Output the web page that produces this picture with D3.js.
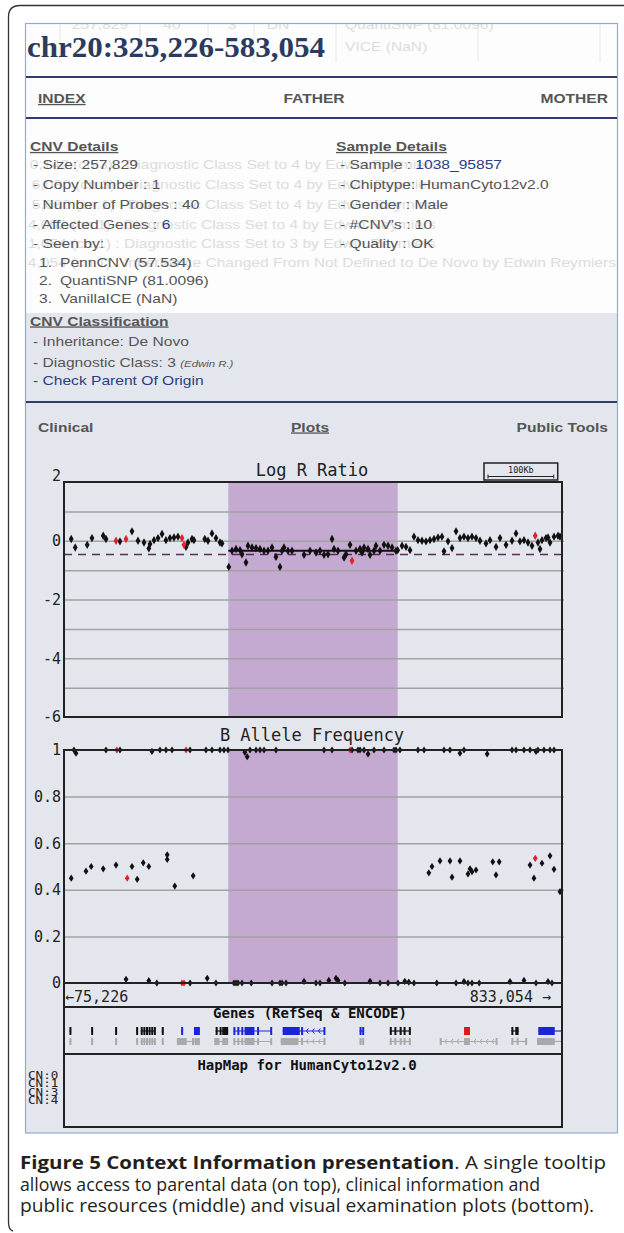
<!DOCTYPE html>
<html>
<head>
<meta charset="utf-8">
<script src="https://cdn.jsdelivr.net/npm/d3@7"></script>
<style>
  body { margin: 0; background: #fff; }
  svg { display: block; }
  text { white-space: pre; }
</style>
</head>
<body>
<div id="chart"></div>
<script>
// region shown in the plots (kb) and the called CNV
const viewStartKb = 75.226, viewEndKb = 833.054;
const cnvStartKb = 325.226, cnvEndKb = 583.054;
const scaleBarKb = 100;

const lrrTicks = [2, 0, -2, -4, -6];
const lrrGrid = [1, 0, -1, -2, -3, -4, -5];
const bafTicks = [1, 0.8, 0.6, 0.4, 0.2, 0];
const lrrSegmentMean = -0.34;
const lrrThreshold = -0.47;

// Log R Ratio probes (position kb, value)
const lrrPos = [86.2, 92.3, 110.5, 117.8, 134.9, 139.1, 160.4, 178.7, 187.8, 197.0, 206.1, 204.3, 212.2, 218.3, 224.4, 230.4,
  236.5, 242.6, 248.7, 260.9, 263.9, 270.0, 273.0, 289.5, 294.4, 300.4, 306.5, 312.6, 315.7,
  326.0, 330.9, 337.0, 343.1, 346.1, 352.2, 355.2, 361.3, 367.4, 373.5, 379.6, 385.7, 391.8, 397.8, 403.9, 407.0, 410.0,
  416.1, 422.2, 440.5, 449.6, 458.7, 464.8, 470.9, 477.0, 483.1, 486.1, 492.2, 501.4, 504.4, 510.5, 519.6, 525.7, 528.7,
  531.8, 537.9, 540.9, 547.0, 550.0, 556.1, 562.2, 568.3, 574.4, 580.4, 583.0,
  589.6, 595.7, 601.8, 607.8, 613.9, 620.0, 626.1, 632.2, 638.3, 644.4, 650.4, 653.5, 659.6, 665.7, 671.8, 677.8, 683.9,
  690.0, 696.1, 702.2, 708.3, 717.4, 723.5, 732.7, 738.7, 747.9, 757.0, 763.1, 769.1, 775.2, 781.3, 787.4, 796.5, 799.6,
  802.6, 808.7, 811.8, 814.8, 820.9, 827.0, 830.0];
const lrrVal = [0.06, -0.23, -0.14, 0.09, 0.17, 0.06, -0.02, 0.32, 0.0, -0.06, -0.11, -0.26, 0.02, 0.09, 0.23, 0.02,
  0.09, 0.11, 0.14, -0.21, -0.06, 0.06, 0.02, 0.06, 0.0, 0.25, 0.09, -0.06, -0.09,
  -0.89, -0.34, -0.28, -0.32, -0.46, -0.74, -0.17, -0.23, -0.25, -0.28, -0.34, -0.34, -0.23, -0.55, -0.89, -0.34, -0.23,
  -0.34, -0.34, -0.48, -0.34, -0.40, -0.34, -0.48, -0.46, 0.06, -0.28, -0.34, -0.57, -0.46, -0.14, -0.34, -0.28, -0.40,
  -0.23, -0.28, -0.48, -0.34, -0.17, -0.34, -0.14, -0.17, -0.23, -0.34, -0.32,
  -0.17, -0.21, -0.32, 0.14, 0.02, 0.0, -0.02, 0.02, 0.06, 0.11, 0.14, -0.36, -0.02, -0.25, 0.32, 0.09, 0.14,
  0.09, 0.14, 0.09, 0.0, -0.09, 0.02, -0.21, 0.09, -0.14, 0.0, 0.25, -0.02, 0.02, -0.06, -0.17, -0.06, -0.28,
  0.02, 0.09, 0.11, -0.06, 0.14, 0.17, 0.14];
const lrrRedPos = [154.4, 169.6, 254.8, 257.8, 513.5, 792.3];
const lrrRedVal = [0.0, 0.06, 0.09, -0.14, -0.68, 0.17];

// B Allele Frequency probes (position kb, value)
const bafPos = [90.4, 93.5, 139.1, 160.4, 209.1, 221.3, 230.4, 239.6, 267.0, 291.3, 300.4, 312.6, 318.7, 324.8, 350.4, 354.0,
  358.3, 367.4, 373.5, 379.6, 397.8, 470.9, 483.1, 513.5, 522.6, 525.7, 531.8, 537.9, 547.0, 562.2, 577.4, 580.4, 586.5,
  613.9, 623.1, 653.5, 662.6, 677.8, 683.9, 719.2, 757.0, 763.1, 775.2, 784.4, 793.5, 796.5, 805.6, 814.8, 820.9,
  86.2, 108.7, 116.6, 134.9, 154.4, 178.7, 186.6, 195.8, 204.3, 232.3, 232.3, 243.8, 271.8,
  630.4, 635.2, 647.4, 662.6, 665.7, 677.8, 690.0, 693.1, 696.1, 702.2, 727.7, 732.6, 737.5, 784.4, 790.4, 802.6, 814.8,
  820.9, 830.0,
  169.6, 204.3, 216.5, 267.0, 293.2, 306.5, 333.9, 337.0, 340.0, 346.1, 360.1, 391.8, 403.9, 407.0, 413.1, 440.5, 458.7,
  464.8, 478.2, 489.1, 492.2, 502.5, 540.9, 556.1, 568.3, 583.5, 593.8, 599.9, 607.8, 642.5, 671.8, 683.9, 690.0, 696.1,
  707.1, 753.9, 775.2, 793.5, 811.8, 817.8];
const bafVal = [1, 0.986, 1, 1, 0.994, 1, 1, 1, 1, 1, 1, 1, 1, 1, 0.99, 0.971,
  1, 1, 1, 1, 1, 1, 1, 1, 1, 1, 1, 0.983, 1, 1, 1, 1, 1,
  1, 1, 1, 1, 0.986, 1, 0.983, 1, 1, 1, 1, 0.994, 1, 1, 1, 1,
  0.45, 0.48, 0.50, 0.49, 0.506, 0.50, 0.445, 0.516, 0.50, 0.55, 0.53, 0.416, 0.46,
  0.473, 0.50, 0.524, 0.524, 0.454, 0.524, 0.468, 0.49, 0.478, 0.485, 0.52, 0.464, 0.52, 0.506, 0.45, 0.514, 0.546,
  0.488, 0.392,
  0.016, 0.01, 0, 0, 0.02, 0, 0, 0, 0, 0, 0, 0, 0, 0, 0, 0.007, 0,
  0, 0.011, 0.02, 0.011, 0, 0.007, 0, 0, 0, 0.007, 0.004, 0, 0, 0, 0.006, 0, 0,
  0, 0.006, 0.011, 0, 0.006, 0];
const bafRedPos = [155.6, 260.9, 510.5, 171.4, 792.3, 254.8, 257.8];
const bafRedVal = [1, 1, 1, 0.45, 0.535, 0, 0];

// gene track: [colour, start kb, end kb, exons, strand]
const refseqGenes = [
  ["k", 83.5, 85.5, [[83.5, 85.5]], 0],
  ["k", 116.5, 118.5, [[116.5, 118.5]], 0],
  ["k", 153, 155, [[153, 155]], 0],
  ["k", 185, 187, [[185, 187]], 0],
  ["k", 192, 214, [[192, 194], [196, 198], [200, 202], [204, 206], [208, 210], [212, 214]], 0],
  ["k", 224, 226, [[224, 226]], 0],
  ["b", 253.5, 255.5, [[253.5, 255.5]], 0],
  ["b", 273, 282, [[273, 282]], 0],
  ["k", 306, 325, [[306, 308], [312, 314], [316, 325]], 0],
  ["b", 333, 391, [[333, 335], [339, 342], [345, 347], [350, 365], [369, 371], [389, 391]], 0],
  ["b", 408, 472, [[408, 434], [436, 438], [470, 472]], -1],
  ["b", 525, 531, [[525, 527], [529, 531]], 0],
  ["k", 571, 602, [[571, 573], [578, 580], [586, 588], [592, 594], [600, 602]], 0],
  ["r", 684, 693, [[684, 693]], 0],
  ["k", 756, 767, [[756, 758], [762, 767]], 0],
  ["b", 797, 840, [[797, 822]], 0]
];
const encodeGenes = [
  [83.5, 85.5, [[83.5, 85.5]], 0],
  [116.5, 118.5, [[116.5, 118.5]], 0],
  [153, 155, [[153, 155]], 0],
  [185, 187, [[185, 187]], 0],
  [192, 214, [[192, 194], [196, 198], [200, 202], [204, 206], [208, 210], [212, 214]], 0],
  [224, 226, [[224, 226]], 0],
  [247, 282, [[247, 262], [270, 272], [274, 282]], 0],
  [304, 325, [[304, 312], [316, 325]], 0],
  [333, 391, [[333, 335], [339, 342], [345, 347], [350, 365], [369, 371], [389, 391]], 0],
  [405, 472, [[405, 432], [436, 438], [470, 472]], -1],
  [525, 531, [[525, 527], [529, 531]], 0],
  [571, 602, [[571, 573], [578, 580], [586, 588], [592, 594], [600, 602]], 0],
  [647, 734, [[647, 649], [684, 693], [732, 734]], -1],
  [756, 779, [[756, 758], [764, 767], [777, 779]], 0],
  [795, 840, [[795, 822]], 0]
];
const cnLabels = ["CN:0", "CN:1", "CN:3", "CN:4"];

const W = 624, H = 1233;
const svg = d3.select("#chart").append("svg").attr("width", W).attr("height", H);

const sans = "'Liberation Sans', Arial, sans-serif";
const mono = "'DejaVu Sans Mono', monospace";

// screenshot text is a bit wide, so stretch it horizontally
function txt(x, y, parts, o = {}) {
  const el = (o.parent || svg).append("text")
    .attr("transform", `translate(${x},${y}) scale(${o.sx ?? 1.2},1)`)
    .attr("text-anchor", o.anchor || "start")
    .attr("font-family", o.font || sans)
    .attr("font-size", o.size || 13)
    .attr("font-weight", o.bold ? "bold" : "normal")
    .attr("fill", o.fill || "#555");
  if (o.u) el.attr("text-decoration", "underline");
  (typeof parts === "string" ? [[parts]] : parts).forEach(([s, p = {}]) => {
    const ts = el.append("tspan").text(s);
    if (p.fill) ts.attr("fill", p.fill);
    if (p.italic) ts.attr("font-style", "italic");
    if (p.size) ts.attr("font-size", p.size);
    if (p.bold) ts.attr("font-weight", "bold");
  });
  return el;
}

// outer frame
svg.append("path")
  .attr("d", "M624,5.5 H20 Q8.5,5.5 8.5,17 V1222 Q8.5,1230 13,1231")
  .attr("fill", "none").attr("stroke", "#333").attr("stroke-width", 1.3);

// the screenshot panel
svg.append("rect").attr("x", 25).attr("y", 23).attr("width", 593).attr("height", 1110).attr("fill", "#fdfdfd");
svg.append("rect").attr("x", 25).attr("y", 313).attr("width", 593).attr("height", 820).attr("fill", "#e4e6ee");

svg.append("clipPath").attr("id", "panelClip")
  .append("rect").attr("x", 26).attr("y", 24).attr("width", 591).attr("height", 289);

// faint table showing through the tooltip
const ghost = "#dcdcdc";
const ghostG = svg.append("g").attr("clip-path", "url(#panelClip)");
[60, 140, 208, 254, 336, 478, 600].forEach(gx => {
  ghostG.append("line").attr("x1", gx).attr("x2", gx).attr("y1", 24).attr("y2", 62)
    .attr("stroke", "#e8e8e8").attr("stroke-width", 1);
});
txt(100, 29, "257,829", {fill: ghost, anchor: "middle", parent: ghostG});
txt(172, 29, "40", {fill: ghost, anchor: "middle", parent: ghostG});
txt(232, 29, "3", {fill: ghost, anchor: "middle", parent: ghostG});
txt(278, 29, "DN", {fill: ghost, anchor: "middle", parent: ghostG});
txt(345, 29, "QuantiSNP (81.0096)", {fill: ghost, parent: ghostG});
txt(345, 51, "VICE (NaN)", {fill: ghost, parent: ghostG});

const ghostRows = [
  ["0,142 (cn:3) : ", "Diagnostic Class Set to 4 by Edwin Reymiers", 126],
  ["6,080 (cn:3) : ", "Diagnostic Class Set to 4 by Edwin Reymiers", 128],
  ["5,680 (cn:1) : ", "Diagnostic Class Set to 4 by Edwin Reymiers", 128],
  ["4,002 (cn:1) : ", "Diagnostic Class Set to 4 by Edwin Reymiers", 124],
  ["1,054 (cn:1) : ", "Diagnostic Class Set to 3 by Edwin Reymiers", 124],
  ["4,054 (cn:1) : ", "Inheritance Changed From Not Defined to De Novo by Edwin Reymiers", 124]
];
const rowY = [168.5, 188.5, 208.5, 228.5, 247.5, 266.5, 284.5, 302.5];
ghostRows.forEach((r, i) => {
  txt(r[2], rowY[i], r[0], {fill: ghost, anchor: "end", parent: ghostG});
  txt(r[2], rowY[i], r[1], {fill: ghost, parent: ghostG});
});

// panel border and navy rules
svg.append("rect").attr("x", 25.5).attr("y", 23.5).attr("width", 592).attr("height", 1109.5)
  .attr("fill", "none").attr("stroke", "#93aad8").attr("stroke-width", 1.2);
[77, 118, 402].forEach(ly => {
  svg.append("line").attr("x1", 26).attr("x2", 617).attr("y1", ly).attr("y2", ly)
    .attr("stroke", "#2f3c6c").attr("stroke-width", 1.8);
});

// title
svg.append("text").attr("x", 27).attr("y", 57)
  .attr("font-family", "'Liberation Serif', 'DejaVu Serif', serif").attr("font-size", 30).attr("font-weight", "bold")
  .attr("fill", "#2c3b5d").attr("textLength", 298).attr("lengthAdjust", "spacingAndGlyphs")
  .text("chr20:325,226-583,054");

// tabs
txt(38, 103, "INDEX", {bold: true, u: true});
txt(314, 103, "FATHER", {bold: true, anchor: "middle"});
txt(608, 103, "MOTHER", {bold: true, anchor: "end"});

// details
const blue = "#2b3d86";
txt(30, 151, "CNV Details", {bold: true, u: true});
txt(336, 151, "Sample Details", {bold: true, u: true});
txt(33, rowY[0], "- Size: 257,829");
txt(33, rowY[1], "- Copy Number : 1");
txt(33, rowY[2], "- Number of Probes : 40");
txt(33, rowY[3], [["- Affected Genes : "], ["6", {fill: blue}]]);
txt(33, rowY[4], "- Seen by:");
txt(340, rowY[0], [["- Sample : "], ["1038_95857", {fill: blue}]]);
txt(340, rowY[1], "- Chiptype: HumanCyto12v2.0");
txt(340, rowY[2], "- Gender : Male");
txt(340, rowY[3], "- #CNV's : 10");
txt(340, rowY[4], "- Quality : OK");
[["1.", "PennCNV (57.534)"], ["2.", "QuantiSNP (81.0096)"], ["3.", "VanillaICE (NaN)"]].forEach((d, i) => {
  txt(52, rowY[5 + i], d[0], {anchor: "end"});
  txt(60, rowY[5 + i], d[1]);
});

txt(30, 325.5, "CNV Classification", {bold: true, u: true});
txt(33, 345.5, "- Inheritance: De Novo");
txt(33, 366.5, [["- Diagnostic Class: 3 "], ["(Edwin R.)", {italic: true, size: 9.5}]]);
txt(33, 384.5, "- Check Parent Of Origin", {fill: blue});

txt(38, 431.5, "Clinical", {bold: true});
txt(310, 431.5, "Plots", {bold: true, u: true, anchor: "middle"});
txt(608, 431.5, "Public Tools", {bold: true, anchor: "end"});

// ---------- plots ----------
const x = d3.scaleLinear().domain([viewStartKb, viewEndKb]).range([64, 562]);
const yL = d3.scaleLinear().domain([-6, 2]).range([717, 482]);
const yB = d3.scaleLinear().domain([0, 1]).range([983, 750]);
const purple = "#c4aad0";

// Log R Ratio
svg.append("text").attr("x", 312).attr("y", 476).attr("text-anchor", "middle")
  .attr("font-family", mono).attr("font-size", 17).attr("fill", "#222").text("Log R Ratio");

svg.append("rect").attr("x", x(cnvStartKb)).attr("y", yL(2))
  .attr("width", x(cnvEndKb) - x(cnvStartKb)).attr("height", yL(-6) - yL(2)).attr("fill", purple);

svg.append("g").attr("transform", "translate(64,0)")
  .call(d3.axisLeft(yL).tickValues(lrrGrid).tickSize(-500).tickFormat(""))
  .call(g => g.select(".domain").remove())
  .call(g => g.selectAll("line").attr("stroke", "#a2a2a2").attr("stroke-width", 1.5));

svg.append("line").attr("x1", x(viewStartKb)).attr("x2", x(viewEndKb))
  .attr("y1", yL(lrrThreshold)).attr("y2", yL(lrrThreshold))
  .attr("stroke", "#5b2b55").attr("stroke-width", 1.5).attr("stroke-dasharray", "8,6");
svg.append("line").attr("x1", x(cnvStartKb)).attr("x2", x(cnvEndKb))
  .attr("y1", yL(lrrSegmentMean)).attr("y2", yL(lrrSegmentMean))
  .attr("stroke", "#111").attr("stroke-width", 2);

svg.append("g").selectAll("path").data(d3.zip(lrrPos, lrrVal)).join("path")
  .attr("d", d3.symbol(d3.symbolDiamond, 20))
  .attr("transform", d => `translate(${x(d[0])},${yL(d[1])})`).attr("fill", "#111");
svg.append("g").selectAll("path").data(d3.zip(lrrRedPos, lrrRedVal)).join("path")
  .attr("d", d3.symbol(d3.symbolDiamond, 20))
  .attr("transform", d => `translate(${x(d[0])},${yL(d[1])})`).attr("fill", "#e0202a");

svg.append("rect").attr("x", 64).attr("y", yL(2)).attr("width", 498).attr("height", yL(-6) - yL(2))
  .attr("fill", "none").attr("stroke", "#222").attr("stroke-width", 2);

svg.append("g").attr("transform", "translate(64,0)")
  .call(d3.axisLeft(yL).tickValues(lrrTicks).tickSize(0).tickPadding(3).tickFormat(d => String(d)))
  .call(g => g.select(".domain").remove())
  .call(g => g.selectAll("text").attr("font-family", mono).attr("font-size", 15).attr("fill", "#222"))
  .call(g => g.selectAll(".tick").filter(d => d === 2).select("text").attr("y", -6));

// 100Kb scale bar
const barLen = x(viewStartKb + scaleBarKb) - x(viewStartKb);
svg.append("rect").attr("x", 484).attr("y", 463).attr("width", barLen + 8).attr("height", 17)
  .attr("fill", "none").attr("stroke", "#222").attr("stroke-width", 1.5);
svg.append("path")
  .attr("d", `M488,474.5 V478.5 M488,476.5 H${488 + barLen} M${488 + barLen},474.5 V478.5`)
  .attr("stroke", "#222").attr("stroke-width", 1).attr("fill", "none");
svg.append("text").attr("x", 488 + barLen / 2).attr("y", 473).attr("text-anchor", "middle")
  .attr("font-family", mono).attr("font-size", 8.5).attr("fill", "#222").text(scaleBarKb + "Kb");

// B Allele Frequency
svg.append("text").attr("x", 312).attr("y", 741).attr("text-anchor", "middle")
  .attr("font-family", mono).attr("font-size", 17).attr("fill", "#222").text("B Allele Frequency");

svg.append("rect").attr("x", x(cnvStartKb)).attr("y", yB(1))
  .attr("width", x(cnvEndKb) - x(cnvStartKb)).attr("height", yB(0) - yB(1)).attr("fill", purple);

svg.append("g").attr("transform", "translate(64,0)")
  .call(d3.axisLeft(yB).tickValues(bafTicks.filter(d => d > 0 && d < 1)).tickSize(-500).tickFormat(""))
  .call(g => g.select(".domain").remove())
  .call(g => g.selectAll("line").attr("stroke", "#a2a2a2").attr("stroke-width", 1.5));

svg.append("g").selectAll("path").data(d3.zip(bafPos, bafVal)).join("path")
  .attr("d", d3.symbol(d3.symbolDiamond, 15))
  .attr("transform", d => `translate(${x(d[0])},${yB(d[1])}) scale(1.15,1)`).attr("fill", "#111");
svg.append("g").selectAll("path").data(d3.zip(bafRedPos, bafRedVal)).join("path")
  .attr("d", d3.symbol(d3.symbolDiamond, 15))
  .attr("transform", d => `translate(${x(d[0])},${yB(d[1])}) scale(1.15,1)`).attr("fill", "#e0202a");

// box around BAF, gene and HapMap tracks
svg.append("rect").attr("x", 64).attr("y", yB(1)).attr("width", 498).attr("height", 1127 - yB(1))
  .attr("fill", "none").attr("stroke", "#222").attr("stroke-width", 2);
[yB(0), 1007, 1054].forEach(ly => {
  svg.append("line").attr("x1", 64).attr("x2", 562).attr("y1", ly).attr("y2", ly)
    .attr("stroke", "#222").attr("stroke-width", 2);
});

svg.append("g").attr("transform", "translate(64,0)")
  .call(d3.axisLeft(yB).tickValues(bafTicks).tickSize(0).tickPadding(3).tickFormat(d => String(d)))
  .call(g => g.select(".domain").remove())
  .call(g => g.selectAll("text").attr("font-family", mono).attr("font-size", 15).attr("fill", "#222"));

svg.append("text").attr("x", 65).attr("y", 1002).attr("font-family", mono).attr("font-size", 15)
  .attr("fill", "#222").text("\u2190" + d3.format(",")(Math.round(viewStartKb * 1000)));
svg.append("text").attr("x", 551).attr("y", 1002).attr("text-anchor", "end").attr("font-family", mono)
  .attr("font-size", 15).attr("fill", "#222").text(d3.format(",")(Math.round(viewEndKb * 1000)) + " \u2192");

// genes
svg.append("text").attr("x", 310).attr("y", 1018).attr("text-anchor", "middle")
  .attr("font-family", mono).attr("font-size", 14).attr("font-weight", "bold").attr("fill", "#111")
  .text("Genes (RefSeq & ENCODE)");

svg.append("clipPath").attr("id", "trackClip")
  .append("rect").attr("x", 65).attr("y", 1008).attr("width", 496).attr("height", 45);
const geneCol = {k: "#111", b: "#1b24d8", r: "#e3141b"};
const tracks = svg.append("g").attr("clip-path", "url(#trackClip)");

function drawGene(colour, start, end, exons, strand, yTop, h) {
  const g = tracks.append("g");
  const yc = yTop + h / 2;
  g.append("line").attr("x1", x(start)).attr("x2", x(end)).attr("y1", yc).attr("y2", yc)
    .attr("stroke", colour).attr("stroke-width", 1.2);
  if (strand !== 0) {
    for (let i = 0; i < exons.length - 1; i++) {
      const a = x(exons[i][1]), b = x(exons[i + 1][0]);
      for (let cx = a + 4; cx < b - 3; cx += 6) {
        g.append("path").attr("d", `M${cx + 2},${yc - 2.5} L${cx},${yc} L${cx + 2},${yc + 2.5}`)
          .attr("stroke", colour).attr("fill", "none").attr("stroke-width", 1);
      }
    }
  }
  g.selectAll("rect").data(exons).join("rect")
    .attr("x", d => x(d[0])).attr("y", yTop)
    .attr("width", d => Math.max(2, x(d[1]) - x(d[0]))).attr("height", h).attr("fill", colour);
}
refseqGenes.forEach(d => drawGene(geneCol[d[0]], d[1], d[2], d[3], d[4], 1027, 8));
encodeGenes.forEach(d => drawGene("#a9a9a9", d[0], d[1], d[2], d[3], 1038, 7));

// HapMap
svg.append("text").attr("x", 307).attr("y", 1070).attr("text-anchor", "middle")
  .attr("font-family", mono).attr("font-size", 14).attr("font-weight", "bold").attr("fill", "#111")
  .text("HapMap for HumanCyto12v2.0");
cnLabels.forEach((c, i) => {
  svg.append("text").attr("transform", `translate(28,${1079 + i * 8.3}) scale(1.2,1)`)
    .attr("font-family", mono).attr("font-size", 10.5).attr("fill", "#222").text(c);
});

// caption
const capFont = "'Open Sans', 'Noto Sans', sans-serif";
const capLines = [
  [["Figure 5 Context Information presentation", true], [". A single tooltip", false]],
  [["allows access to parental data (on top), clinical information and", false]],
  [["public resources (middle) and visual examination plots (bottom).", false]]
];
const capWidths = [586, 520, 574];
capLines.forEach((ln, i) => {
  const t = svg.append("text").attr("x", 20).attr("y", 1169 + i * 21.5)
    .attr("font-family", capFont).attr("font-size", 17.5).attr("fill", "#231f20")
    .attr("textLength", capWidths[i]).attr("lengthAdjust", "spacingAndGlyphs");
  ln.forEach(([s, b]) => t.append("tspan").attr("font-weight", b ? "bold" : "normal").text(s));
});
</script>
</body>
</html>
